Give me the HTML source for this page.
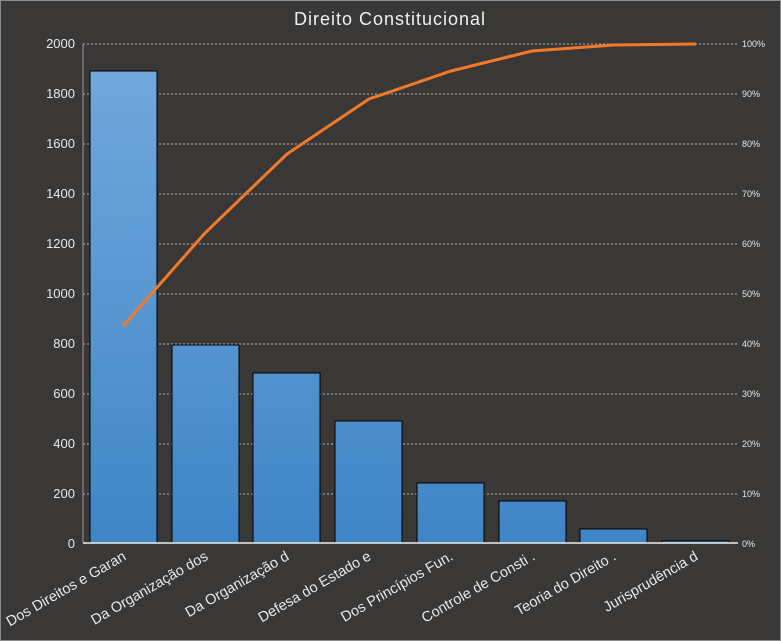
<!DOCTYPE html>
<html><head><meta charset="utf-8"><style>html,body{margin:0;padding:0;background:#3a3836;overflow:hidden}svg{display:block}</style></head><body>
<svg width="781" height="641" xmlns="http://www.w3.org/2000/svg" font-family="Liberation Sans, DejaVu Sans, sans-serif">
<defs><linearGradient id="g" gradientUnits="userSpaceOnUse" x1="0" y1="60" x2="0" y2="543"><stop offset="0" stop-color="#72a8dd"/><stop offset="1" stop-color="#3f85c6"/></linearGradient></defs>
<rect x="0.5" y="0.5" width="780" height="640" fill="#3a3836" stroke="#8c8c8c"/>
<text x="390" y="25" text-anchor="middle" fill="#f0f0f0" font-size="18" letter-spacing="1">Direito Constitucional</text>
<g stroke="#b0b0b0" stroke-dasharray="2,2" stroke-width="1">
<line x1="83" x2="738" y1="44" y2="44"/><line x1="83" x2="738" y1="94" y2="94"/><line x1="83" x2="738" y1="144" y2="144"/><line x1="83" x2="738" y1="194" y2="194"/><line x1="83" x2="738" y1="244" y2="244"/><line x1="83" x2="738" y1="294" y2="294"/><line x1="83" x2="738" y1="344" y2="344"/><line x1="83" x2="738" y1="394" y2="394"/><line x1="83" x2="738" y1="444" y2="444"/><line x1="83" x2="738" y1="494" y2="494"/>
</g>
<line x1="83" y1="44" x2="83" y2="543" stroke="#999"/>
<g fill="#e8e8e8" font-size="13" text-anchor="end">
<text x="75" y="48">2000</text><text x="75" y="98">1800</text><text x="75" y="148">1600</text><text x="75" y="198">1400</text><text x="75" y="248">1200</text><text x="75" y="298">1000</text><text x="75" y="348">800</text><text x="75" y="398">600</text><text x="75" y="448">400</text><text x="75" y="498">200</text><text x="75" y="548">0</text>
</g>
<g fill="#e8e8e8" font-size="9">
<text x="742" y="47">100%</text><text x="742" y="97">90%</text><text x="742" y="147">80%</text><text x="742" y="197">70%</text><text x="742" y="247">60%</text><text x="742" y="297">50%</text><text x="742" y="347">40%</text><text x="742" y="397">30%</text><text x="742" y="447">20%</text><text x="742" y="497">10%</text><text x="742" y="547">0%</text>
</g>
<g fill="url(#g)" stroke="#000" stroke-width="1">
<rect x="90" y="71" width="67" height="472"/>
<rect x="172" y="345" width="67" height="198"/>
<rect x="253" y="373" width="67" height="170"/>
<rect x="335" y="421" width="67" height="122"/>
<rect x="417" y="483" width="67" height="60"/>
<rect x="499" y="501" width="67" height="42"/>
<rect x="580" y="529" width="67" height="14"/>
<rect x="662" y="541" width="67" height="2"/>
</g>
<line x1="83" y1="543" x2="738" y2="543" stroke="#eee" stroke-width="1.5"/>
<polyline points="123,326 205,233 287,154 369,99 451,71 532,51 614,45 696,44" fill="none" stroke="#f07a2a" stroke-width="3"/>
<g fill="#e8e8e8" font-size="14.5" text-anchor="end">
<text transform="translate(127,559) rotate(-30)">Dos Direitos e Garan</text>
<text transform="translate(209,559) rotate(-30)">Da Organização dos</text>
<text transform="translate(290,559) rotate(-30)">Da Organização d</text>
<text transform="translate(372,559) rotate(-30)">Defesa do Estado e</text>
<text transform="translate(454,559) rotate(-30)">Dos Princípios Fun.</text>
<text transform="translate(536,559) rotate(-30)">Controle de Consti .</text>
<text transform="translate(617,559) rotate(-30)">Teoria do Direito .</text>
<text transform="translate(699,559) rotate(-30)">Jurisprudência d</text>
</g>
</svg>
</body></html>
